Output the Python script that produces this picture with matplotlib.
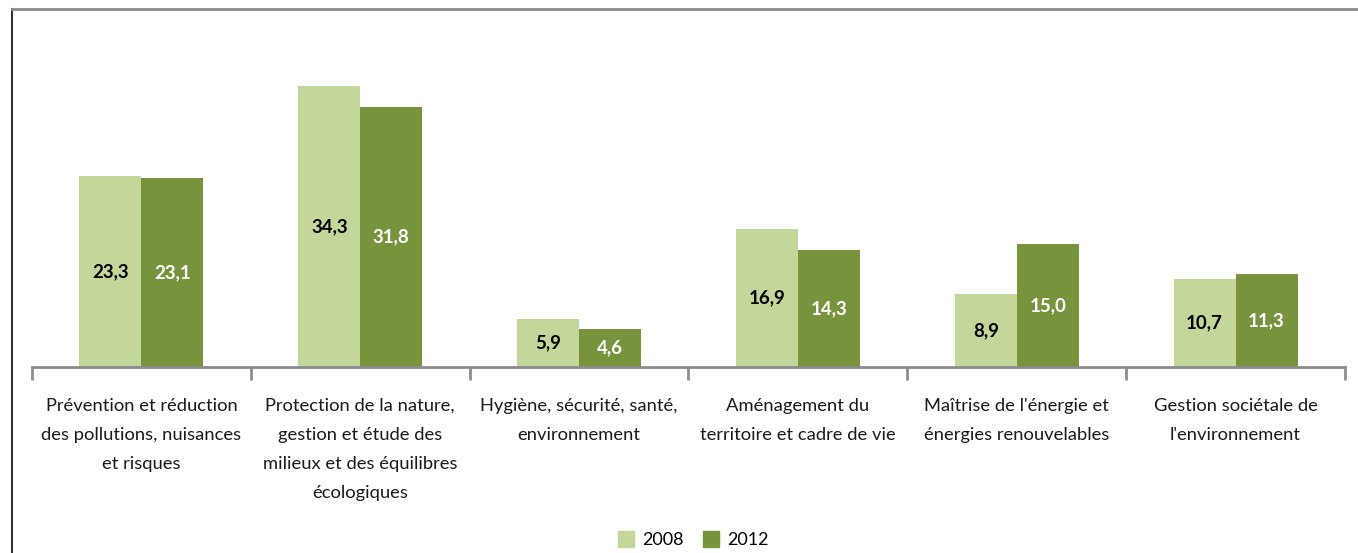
import numpy as np
import matplotlib
matplotlib.use("Agg")
from matplotlib import pyplot as plt
from matplotlib.lines import Line2D

categories = [
    "Prévention et réduction\ndes pollutions, nuisances\net risques",
    "Protection de la nature,\ngestion et étude des\nmilieux et des équilibres\nécologiques",
    "Hygiène, sécurité, santé,\nenvironnement",
    "Aménagement du\nterritoire et cadre de vie",
    "Maîtrise de l'énergie et\nénergies renouvelables",
    "Gestion sociétale de\nl'environnement",
]
values_2008 = [23.3, 34.3, 5.9, 16.9, 8.9, 10.7]
values_2012 = [23.1, 31.8, 4.6, 14.3, 15.0, 11.3]
series_names = ["2008", "2012"]

light = "#C4D79B"
dark = "#77933C"
axis_grey = "#8C8C8C"

plt.rcParams["font.family"] = ["Lato", "DejaVu Sans"]

fig = plt.figure(figsize=(13.58, 5.53), dpi=100)
ax = fig.add_axes([32 / 1358, 1 - 367 / 553, 1313 / 1358, 330 / 553])

x = np.arange(len(categories))
w = 0.283
b1 = ax.bar(x - w / 2, values_2008, w, color=light, label=series_names[0])
b2 = ax.bar(x + w / 2, values_2012, w, color=dark, label=series_names[1])

def fmt(v):
    return f"{v:.1f}".replace(".", ",")

for bars, vals, col in [(b1, values_2008, "black"), (b2, values_2012, "white")]:
    for r, v in zip(bars, vals):
        ax.text(r.get_x() + r.get_width() / 2, v / 2, fmt(v), ha="center",
                va="center", fontsize=13.5, fontweight="bold", color=col)

ax.set_xlim(-0.5, len(categories) - 0.5)
ax.set_ylim(0, 40.3)
ax.set_yticks([])
for s in ["top", "right", "left"]:
    ax.spines[s].set_visible(False)
ax.spines["bottom"].set_color(axis_grey)
ax.spines["bottom"].set_linewidth(2)

ax.set_xticks(np.arange(-0.5, len(categories)), minor=False)
ax.set_xticklabels([])
ax.tick_params(axis="x", length=9, width=2, color=axis_grey)
for i, c in enumerate(categories):
    ax.text(i, -0.093, c, transform=ax.get_xaxis_transform(), ha="center",
            va="top", fontsize=13.2, linespacing=2.0, color="#1a1a1a")

handles = [
    Line2D([], [], marker="s", linestyle="", markersize=12, color=light),
    Line2D([], [], marker="s", linestyle="", markersize=12, color=dark),
]
fig.legend(handles, series_names, loc="center", bbox_to_anchor=(693 / 1358, 1 - 540 / 553),
           ncol=2, frameon=False, fontsize=13, handletextpad=0.4, columnspacing=1.0,
           handlelength=1.0)

# outer frame (left and top edges visible)
fig.add_artist(Line2D([11.5 / 1358, 11.5 / 1358], [0, 1 - 9 / 553], transform=fig.transFigure,
                      color="#333333", linewidth=1.5))
fig.add_artist(Line2D([11.5 / 1358, 1], [1 - 9 / 553, 1 - 9 / 553], transform=fig.transFigure,
                      color="#8a8a8a", linewidth=2))

fig.savefig("out.png", dpi=100)
